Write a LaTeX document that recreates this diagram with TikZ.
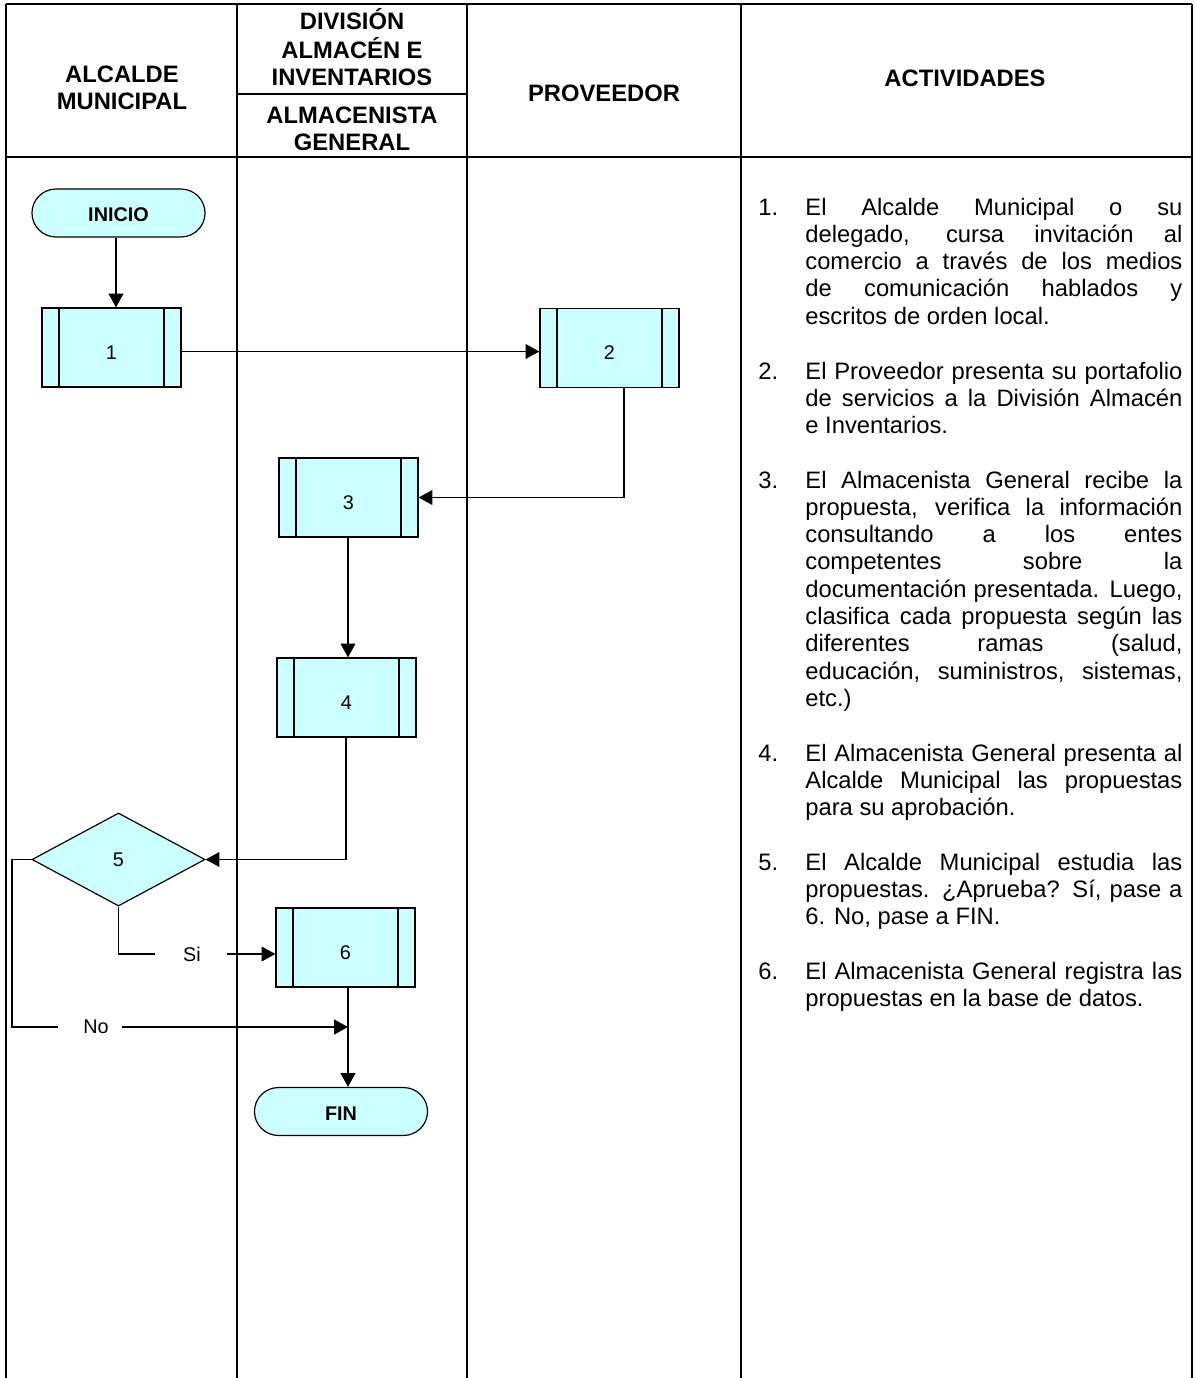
\documentclass[tikz,border=0pt]{standalone}
\usepackage{fontspec}
\setmainfont{Liberation Sans}
\usetikzlibrary{arrows.meta,shapes.geometric,shapes.misc,calc}
\definecolor{boxfill}{HTML}{CCFFFF}
\newcommand\jl[1]{\hbox to 190.4pt{#1}}
\newcommand\lastl[1]{\hbox{#1}}
\begin{document}
\begin{tikzpicture}[x=0.505pt,y=-0.505pt,
  lane/.style={line width=1.1pt},
  proc/.style={draw,line width=0.6pt,fill=boxfill,minimum width=70.2pt,minimum height=39.9pt,
    inner sep=0pt,font=\fontsize{10}{12}\selectfont,text height=12pt,text depth=0pt,
    path picture={
      \draw[line width=0.6pt] ([xshift=8.6pt]path picture bounding box.north west) -- ([xshift=8.6pt]path picture bounding box.south west);
      \draw[line width=0.6pt] ([xshift=-8.6pt]path picture bounding box.north east) -- ([xshift=-8.6pt]path picture bounding box.south east);}},
  term/.style={rounded rectangle,draw,line width=0.6pt,fill=boxfill,minimum width=87.4pt,minimum height=24.2pt,
    inner sep=0pt,font=\bfseries\fontsize{10}{12}\selectfont,text height=9pt,text depth=0pt},
  dec/.style={diamond,draw,line width=0.6pt,fill=boxfill,minimum width=87.4pt,minimum height=47pt,
    inner sep=0pt,font=\fontsize{10}{12}\selectfont},
  conn/.style={line width=0.6pt},
  arr/.style={conn,-{Triangle[length=7pt,width=7.5pt]}},
  lbl/.style={inner sep=0pt,font=\fontsize{10}{12}\selectfont},
  hdr/.style={inner sep=0pt,anchor=base,font=\bfseries\fontsize{12}{13.8}\selectfont},
  num/.style={inner sep=0pt,anchor=base west,font=\fontsize{12}{13.8}\selectfont},
  act/.style={inner sep=0pt,anchor=base west,font=\fontsize{12}{13.8}\selectfont}]
\useasboundingbox (0,0) rectangle (1197,1378);
% table
\draw[lane] (6,4) -- (1192,4);
\draw[lane] (6,157) -- (1192,157);
\draw[lane] (237,94) -- (467,94);
\foreach \xx in {6,237,467,741,1192} \draw[lane] (\xx,4) -- (\xx,1378);
% headers
\node[hdr] (hA) at (122,82) {\begin{tabular}[t]{@{}c@{}}ALCALDE\\MUNICIPAL\end{tabular}};
\node[hdr] (hB) at (352,29) {\begin{tabular}[t]{@{}c@{}}DIVISIÓN\\ALMACÉN E\\INVENTARIOS\end{tabular}};
\node[hdr] (hC) at (352,123) {\begin{tabular}[t]{@{}c@{}}ALMACENISTA\\GENERAL\end{tabular}};
\node[hdr] (hD) at (604,101.5) {PROVEEDOR};
\node[hdr] (hE) at (965,86.5) {ACTIVIDADES};
% activities
\node[num] (n1) at (758,215) {1.};
\node[act] (t1) at (805,215) {\parbox[t]{190.4pt}{%
\jl{El Alcalde Municipal o su}%
\jl{delegado, cursa invitación al}%
\jl{comercio a través de los medios}%
\jl{de comunicación hablados y}%
\lastl{escritos de orden local.}}};
\node[num] (n2) at (758,379) {2.};
\node[act] (t2) at (805,379) {\parbox[t]{190.4pt}{%
\jl{El Proveedor presenta su portafolio}%
\jl{de servicios a la División Almacén}%
\lastl{e Inventarios.}}};
\node[num] (n3) at (758,488) {3.};
\node[act] (t3) at (805,488) {\parbox[t]{190.4pt}{%
\jl{El Almacenista General recibe la}%
\jl{propuesta, verifica la información}%
\jl{consultando a los entes}%
\jl{competentes sobre la}%
\jl{documentación presentada. Luego,}%
\jl{clasifica cada propuesta según las}%
\jl{diferentes ramas (salud,}%
\jl{educación, suministros, sistemas,}%
\lastl{etc.)}}};
\node[num] (n4) at (758,761) {4.};
\node[act] (t4) at (805,761) {\parbox[t]{190.4pt}{%
\jl{El Almacenista General presenta al}%
\jl{Alcalde Municipal las propuestas}%
\lastl{para su aprobación.}}};
\node[num] (n5) at (758,870) {5.};
\node[act] (t5) at (805,870) {\parbox[t]{190.4pt}{%
\jl{El Alcalde Municipal estudia las}%
\jl{propuestas. ¿Aprueba? Sí, pase a}%
\lastl{6. No, pase a FIN.}}};
\node[num] (n6) at (758,979) {6.};
\node[act] (t6) at (805,979) {\parbox[t]{190.4pt}{%
\jl{El Almacenista General registra las}%
\lastl{propuestas en la base de datos.}}};
% flow nodes
\node[term] (ini) at (118.5,213) {INICIO};
\node[proc] (b1) at (111.5,347.5) {1};
\node[proc] (b2) at (609.5,348) {2};
\node[proc] (b3) at (348.5,497.5) {3};
\node[proc] (b4) at (346.5,697.5) {4};
\node[dec] (d5) at (118.5,859.5) {5};
\node[proc] (b6) at (345.5,947.5) {6};
\node[term] (fin) at (341,1111.5) {FIN};
% connectors
\coordinate (p1) at (116,0);
\draw[arr] (ini.south -| p1) -- (b1.north -| p1);
\coordinate (p2) at (0,351.5);
\draw[arr] (b1.east |- p2) -- (b2.west |- p2);
\coordinate (p3) at (624,0);
\draw[arr] (b2.south -| p3) |- (b3.east);
\coordinate (p4) at (348,0);
\draw[arr] (b3.south -| p4) -- (b4.north -| p4);
\coordinate (p5) at (346,0);
\draw[arr] (b4.south -| p5) |- (d5.east);
\coordinate (nA) at (12,859.5);
\coordinate (nB) at (58,1027);
\node[lbl] (no) at (96,1027) {No};
\coordinate (nC) at (122,1027);
\coordinate (nD) at (348,1027);
\draw[conn] (d5.west) -- (nA) |- (nB);
\draw[arr] (nC) -- (nD);
\coordinate (sB) at (155,954);
\node[lbl] (si) at (192,954) {Si};
\coordinate (sC) at (227,954);
\draw[conn] (d5.south) |- (sB);
\draw[arr] (sC) -- (b6.west |- sC);
\draw[arr] (b6.south -| p4) -- (fin.north -| p4);
\end{tikzpicture}
\end{document}
